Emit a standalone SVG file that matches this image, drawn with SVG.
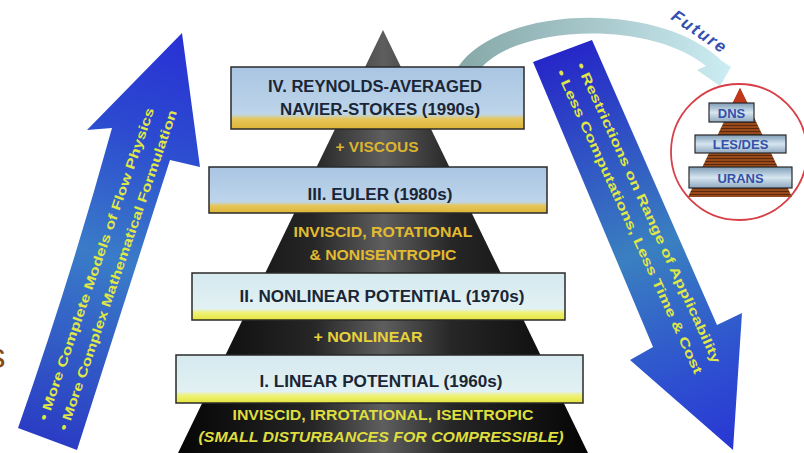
<svg xmlns="http://www.w3.org/2000/svg" width="804" height="453" viewBox="0 0 804 453">
<defs>
<linearGradient id="pyr" x1="0" y1="0" x2="1" y2="0">
<stop offset="0" stop-color="#050505"/><stop offset="0.33" stop-color="#262626"/><stop offset="0.5" stop-color="#5e5e5e"/><stop offset="0.67" stop-color="#262626"/><stop offset="1" stop-color="#050505"/>
</linearGradient>
<linearGradient id="boxBlue" x1="0" y1="0" x2="0" y2="1">
<stop offset="0" stop-color="#a9c5e3"/><stop offset="0.76" stop-color="#bed5ea"/><stop offset="0.84" stop-color="#e6c65a"/><stop offset="1" stop-color="#ddb436"/>
</linearGradient>
<linearGradient id="boxCyan" x1="0" y1="0" x2="0" y2="1">
<stop offset="0" stop-color="#d5e9ef"/><stop offset="0.76" stop-color="#e2f1f3"/><stop offset="0.84" stop-color="#eef27a"/><stop offset="1" stop-color="#e6e63c"/>
</linearGradient>
<linearGradient id="arrL" gradientUnits="userSpaceOnUse" x1="47" y1="440" x2="182" y2="33">
<stop offset="0" stop-color="#2a3cc4"/><stop offset="0.45" stop-color="#3a7cc8"/><stop offset="0.75" stop-color="#2c4ad0"/><stop offset="1" stop-color="#2830d4"/>
</linearGradient>
<linearGradient id="arrR" gradientUnits="userSpaceOnUse" x1="562" y1="50" x2="733" y2="450">
<stop offset="0" stop-color="#2626c8"/><stop offset="0.5" stop-color="#3a80c0"/><stop offset="0.8" stop-color="#2e50d0"/><stop offset="1" stop-color="#2836d4"/>
</linearGradient>
<linearGradient id="fut" gradientUnits="userSpaceOnUse" x1="458" y1="0" x2="735" y2="0">
<stop offset="0" stop-color="#86a8a8"/><stop offset="0.5" stop-color="#a8c8cc"/><stop offset="1" stop-color="#cdeef4"/>
</linearGradient>
<linearGradient id="miniBox" x1="0" y1="0" x2="0" y2="1">
<stop offset="0" stop-color="#7f9cb6"/><stop offset="0.5" stop-color="#d6e6f0"/><stop offset="1" stop-color="#8fa8c0"/>
</linearGradient>
<pattern id="stripes" patternUnits="userSpaceOnUse" width="4" height="3">
<rect width="4" height="3" fill="#9a4a1a"/><rect y="2" width="4" height="1" fill="#5a2a0e"/>
</pattern>
<style>
.box{stroke:#2a2a2a;stroke-width:1.5}
.bt{font-family:"Liberation Sans",Arial,sans-serif;font-weight:bold;font-size:16px;fill:#1a2636;text-anchor:middle}
.pt{font-family:"Liberation Sans",Arial,sans-serif;font-weight:bold;font-size:15px;text-anchor:middle}
.at{font-family:"Liberation Sans",Arial,sans-serif;font-weight:bold;font-size:13px;fill:#e0e846}
.mt{font-family:"Liberation Sans",Arial,sans-serif;font-weight:bold;font-size:13px;fill:#3450a8;text-anchor:middle}
</style>
</defs>
<rect width="804" height="453" fill="#ffffff"/>
<text x="-12" y="368" font-family="'Liberation Sans',Arial,sans-serif" font-size="35" fill="#8a4a14">s</text>

<g id="connectors">
<path d="M458,67 C500,5 660,0 722,61 L731,67 L720,86 L697,70 L706,66 C650,20 520,25 482,67 Z" fill="url(#fut)"/>
</g>

<g id="pyramid">
<polygon points="383,30 588,453 178,453" fill="url(#pyr)"/>
<text class="pt" x="377" y="152" fill="#dcb430" textLength="83" lengthAdjust="spacingAndGlyphs">+ VISCOUS</text>
<text class="pt" x="383" y="237" fill="#e2bc30" textLength="179" lengthAdjust="spacingAndGlyphs">INVISCID, ROTATIONAL</text>
<text class="pt" x="383" y="260" fill="#e2bc30" textLength="147" lengthAdjust="spacingAndGlyphs">&amp; NONISENTROPIC</text>
<text class="pt" x="368" y="342" fill="#e6d23a" textLength="109" lengthAdjust="spacingAndGlyphs">+ NONLINEAR</text>
<text class="pt" x="383" y="420" fill="#dede3e" textLength="301" lengthAdjust="spacingAndGlyphs">INVISCID, IRROTATIONAL, ISENTROPIC</text>
<text class="pt" x="381" y="442" fill="#dede3e" font-style="italic" textLength="365" lengthAdjust="spacingAndGlyphs">(SMALL DISTURBANCES FOR COMPRESSIBLE)</text>
</g>

<g id="box-rans">
<rect class="box" x="231" y="67" width="293" height="62" fill="url(#boxBlue)"/>
<text class="bt" x="375" y="92" textLength="214" lengthAdjust="spacingAndGlyphs">IV. REYNOLDS-AVERAGED</text>
<text class="bt" x="380" y="115" textLength="200" lengthAdjust="spacingAndGlyphs">NAVIER-STOKES (1990s)</text>
</g>
<g id="box-euler">
<rect class="box" x="209" y="167" width="338" height="46" fill="url(#boxBlue)"/>
<text class="bt" x="380" y="200" textLength="145" lengthAdjust="spacingAndGlyphs">III. EULER (1980s)</text>
</g>
<g id="box-nonlinear">
<rect class="box" x="192" y="273" width="373" height="47" fill="url(#boxCyan)"/>
<text class="bt" x="382" y="302" textLength="285" lengthAdjust="spacingAndGlyphs">II. NONLINEAR POTENTIAL (1970s)</text>
</g>
<g id="box-linear">
<rect class="box" x="176" y="355" width="407" height="48" fill="url(#boxCyan)"/>
<text class="bt" x="381" y="387" textLength="243" lengthAdjust="spacingAndGlyphs">I. LINEAR POTENTIAL (1960s)</text>
</g>

<g id="arrow-up">
<path d="M18,428 Q70,280 112,128 L87,130 L182,33 L200,167 L170,160 Q125,300 77,450 Z" fill="url(#arrL)"/>
<text class="at" transform="translate(47,421.5) rotate(-71)" textLength="330" lengthAdjust="spacingAndGlyphs">• More Complete  Models of Flow Physics</text>
<text class="at" transform="translate(67,431.5) rotate(-71)" textLength="338" lengthAdjust="spacingAndGlyphs">• More Complex  Mathematical Formulation</text>
</g>

<g id="arrow-down">
<path d="M533,62 L653,347 L630,360 L733,450 L742,313 L717,325 L592,40 Z" fill="url(#arrR)"/>
<text class="at" transform="translate(576,65) rotate(65.4)" textLength="329" lengthAdjust="spacingAndGlyphs">• Restrictions on Range of Applicability</text>
<text class="at" transform="translate(556,72) rotate(65.4)" textLength="333" lengthAdjust="spacingAndGlyphs">• Less Computations, Less Time &amp; Cost</text>
</g>

<g id="future-label">
<text x="699" y="37" transform="rotate(34 699 31)" font-family="'Liberation Sans',Arial,sans-serif" font-weight="bold" font-style="italic" font-size="17" fill="#3450b0" text-anchor="middle" textLength="62" lengthAdjust="spacing">Future</text>
</g>

<g id="future-circle">
<circle cx="739" cy="152" r="68" fill="#ffffff" stroke="#d84048" stroke-width="1.8"/>
<polygon points="740,88 792,197 688,197" fill="url(#stripes)"/>
<polygon points="740,88 748,104 732,104" fill="#c0381a"/>
</g>
<g id="box-dns">
<rect x="709" y="103" width="45" height="19" fill="url(#miniBox)" stroke="#2a2a2a" stroke-width="1.2"/>
<text class="mt" x="731.5" y="117.5">DNS</text>
</g>
<g id="box-les">
<rect x="695" y="135" width="91" height="18" fill="url(#miniBox)" stroke="#2a2a2a" stroke-width="1.2"/>
<text class="mt" x="740.5" y="149">LES/DES</text>
</g>
<g id="box-urans">
<rect x="689" y="167" width="103" height="21" fill="url(#miniBox)" stroke="#2a2a2a" stroke-width="1.2"/>
<text class="mt" x="740.5" y="182.5">URANS</text>
</g>
</svg>
